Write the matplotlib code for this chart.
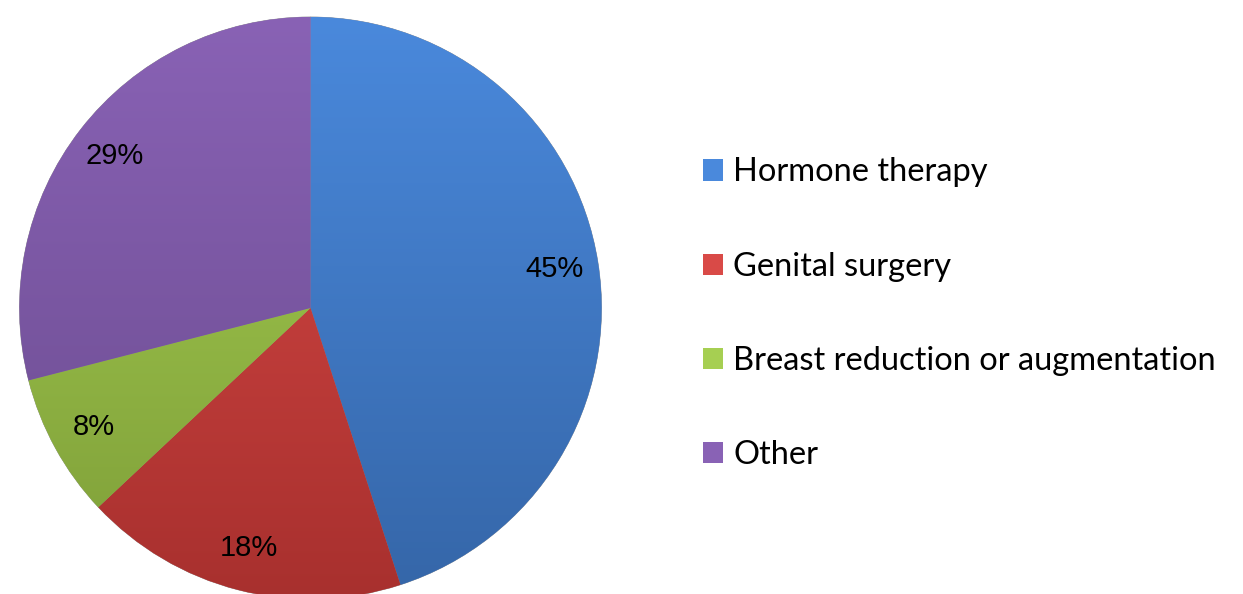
import numpy as np
import matplotlib.pyplot as plt
from matplotlib.colors import LinearSegmentedColormap
from matplotlib.patches import Patch

labels = ['Hormone therapy', 'Genital surgery', 'Breast reduction or augmentation', 'Other']
shares = [45, 18, 8, 29]
top_colors = ['#4A89DC', '#D94A47', '#A6CF52', '#8962B5']
bottom_colors = ['#3566A8', '#A8302E', '#7E9E38', '#6A4B8E']

fig = plt.figure(figsize=(12.43, 5.94), dpi=100)
ax = fig.add_axes([0.0153, -0.0085, 0.469, 0.98])

wedges, texts, autotexts = ax.pie(
    shares, colors=top_colors, startangle=90, counterclock=False,
    autopct=lambda p: '%d%%' % round(p), pctdistance=0.85,
    textprops={'family': 'Liberation Sans', 'fontsize': 21, 'color': 'black'},
    wedgeprops={'linewidth': 0.4, 'edgecolor': '#888888'})

# vertical gradient inside every slice
grad = np.linspace(0, 1, 256).reshape(-1, 1)
for w, c_top, c_bot in zip(wedges, top_colors, bottom_colors):
    cmap = LinearSegmentedColormap.from_list('g', [c_bot, c_top])
    im = ax.imshow(grad, extent=(-1, 1, -1, 1), origin='lower', cmap=cmap,
                   aspect='auto', zorder=w.get_zorder() + 0.1)
    im.set_clip_path(w)
for t in autotexts:
    t.set_zorder(10)

ax.set_xlim(-1.0, 1.0)
ax.set_ylim(-1.0, 1.0)
ax.set_aspect('equal')
ax.axis('off')

handles = [Patch(facecolor=c, edgecolor='none') for c in top_colors]
leg = fig.legend(handles, labels, loc='center left', bbox_to_anchor=(0.5656, 0.4715),
                 frameon=False, prop={'family': 'Lato', 'size': 23.5},
                 handlelength=0.62, handleheight=0.62, handletextpad=0.3,
                 labelspacing=1.97, borderpad=0, borderaxespad=0)

fig.savefig('out.png', dpi=100)
